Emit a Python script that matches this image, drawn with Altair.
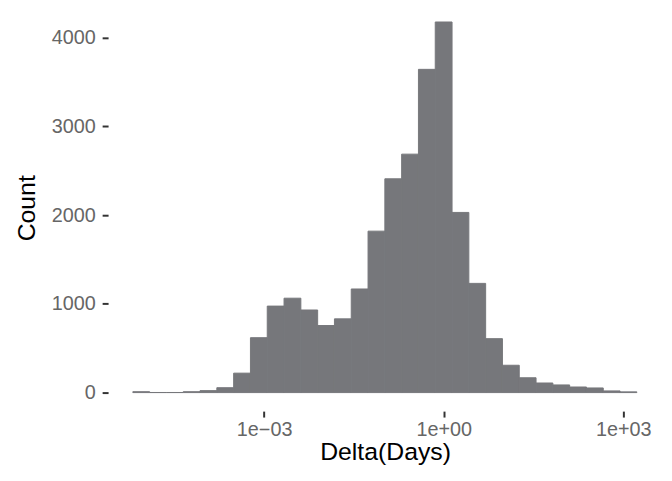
import json
import altair as alt
import pandas as pd

# ---- data (histogram of Delta in days, log10 bins) ----
bin_count = [10, 1, 1, 10, 22, 55, 219, 619, 975, 1064,
             931, 756, 831, 1168, 1820, 2410, 2688, 3644, 4178, 2031,
             1231, 608, 308, 167, 108, 86, 63, 52, 19, 8]
first_edge_log10 = -5.194
bin_width_log10 = 0.2807

x_tick_values = [1e-3, 1.0, 1e3]
x_tick_labels = ["1e\u221203", "1e+00", "1e+03"]
y_tick_values = [0, 1000, 2000, 3000, 4000]

x_title = "Delta(Days)"
y_title = "Count"

# ---- table built from the arrays ----
lo = [10 ** (first_edge_log10 + i * bin_width_log10) for i in range(len(bin_count))]
hi = [10 ** (first_edge_log10 + (i + 1) * bin_width_log10) for i in range(len(bin_count))]
df = pd.DataFrame({"lo": lo, "hi": hi, "n": bin_count, "base": [0] * len(bin_count)})

# ---- layout ----
PLOT_W = 559
PLOT_H = 403.7
PAD_L, PAD_T, PAD_R, PAD_B = 101, 1, 2, 55.3
x_domain = [10 ** -5.6076, 10 ** 3.6474]
y_domain = [-209, 4301]

FONT = "Liberation Sans"
LABEL_COLOR = "#666666"
TICK_COLOR = "#333333"
BAR_COLOR = "#76777B"

label_expr = (
    json.dumps(x_tick_labels, ensure_ascii=False)
    + "[round(log(datum.value)/LN10/3) + 1]"
)

bars = alt.Chart(df).mark_rect(
    color=BAR_COLOR, stroke=BAR_COLOR, strokeWidth=1
).encode(
    x=alt.X(
        "lo:Q",
        scale=alt.Scale(type="log", domain=x_domain, nice=False),
        axis=alt.Axis(
            values=x_tick_values,
            labelExpr=label_expr,
            title=x_title,
            grid=False,
            domain=False,
            ticks=True,
            tickSize=6,
            tickWidth=2,
            tickColor=TICK_COLOR,
            labelFont=FONT,
            labelFontSize=20,
            labelColor=LABEL_COLOR,
            labelPadding=3,
            labelFlush=False,
            labelOverlap=False,
            titleFont=FONT,
            titleFontSize=25,
            titleFontWeight="normal",
            titleColor="#000000",
            titleBaseline="alphabetic",
            titleAlign="center",
            titleX=PLOT_W / 2,
            titleY=49.3,
        ),
    ),
    x2="hi:Q",
    y=alt.Y(
        "n:Q",
        scale=alt.Scale(domain=y_domain, nice=False, zero=False),
        axis=alt.Axis(
            values=y_tick_values,
            format="d",
            title=y_title,
            grid=False,
            domain=False,
            ticks=True,
            tickSize=6,
            tickWidth=2,
            tickColor=TICK_COLOR,
            labelFont=FONT,
            labelFontSize=20,
            labelColor=LABEL_COLOR,
            labelPadding=7,
            labelOverlap=False,
            labelFlush=False,
            titleFont=FONT,
            titleFontSize=25,
            titleFontWeight="normal",
            titleColor="#000000",
            titleAngle=270,
            titleBaseline="alphabetic",
            titleAlign="center",
            titleX=-74,
            titleY=198.5,
        ),
    ),
    y2="base:Q",
)

chart = bars.properties(
    width=PLOT_W,
    height=PLOT_H,
    autosize=alt.AutoSizeParams(type="none"),
    padding={"left": PAD_L, "top": PAD_T, "right": PAD_R, "bottom": PAD_B},
).configure(background="white").configure_view(stroke=None, strokeWidth=0)

chart.save("out.html", embed_options={"renderer": "svg", "actions": False})
